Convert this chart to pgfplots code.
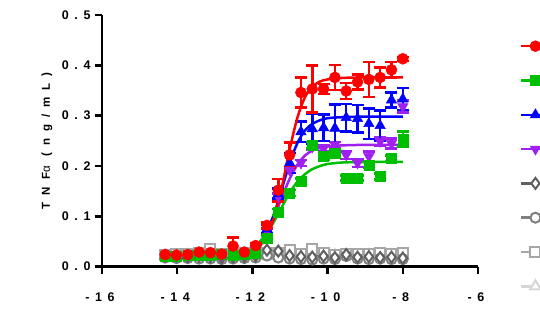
\documentclass[border=0pt]{standalone}
\usepackage{fontspec}
\setmainfont{Liberation Sans}
\newfontfamily\spaced{Liberation Sans}[LetterSpace=45]
\newfontfamily\labelspaced{Liberation Sans}[LetterSpace=60]
\usepackage{pgfplots}
\usepackage{pgfplotstable}
\pgfplotsset{compat=1.18}

\definecolor{cRed}{RGB}{255,0,0}
\definecolor{cGreen}{RGB}{0,190,0}
\definecolor{cBlue}{RGB}{0,0,255}
\definecolor{cPurple}{RGB}{160,32,240}
\definecolor{cDia}{RGB}{96,96,96}
\definecolor{cCirc}{RGB}{128,128,128}
\definecolor{cSq}{RGB}{166,166,166}
\definecolor{cTri}{RGB}{215,215,215}

% log dose (twofold dilutions), response and error for each stimulus
\pgfplotstableread{
x y e
-14.321 0.024 0.003
-14.020 0.023 0.003
-13.719 0.024 0.003
-13.418 0.029 0.004
-13.117 0.028 0.003
-12.816 0.025 0.003
-12.515 0.041 0.017
-12.214 0.029 0.004
-11.913 0.042 0.005
-11.612 0.082 0.006
-11.311 0.152 0.022
-11.010 0.222 0.025
-10.709 0.346 0.030
-10.408 0.353 0.047
-10.107 0.353 0.010
-9.806 0.376 0.025
-9.505 0.349 0.016
-9.204 0.367 0.015
-8.903 0.372 0.035
-8.602 0.376 0.020
-8.301 0.391 0.016
-8.000 0.413 0.004
}\redpts

\pgfplotstableread{
x y e
-14.321 0.021 0.003
-14.020 0.020 0.003
-13.719 0.022 0.003
-13.418 0.023 0.003
-13.117 0.022 0.003
-12.816 0.024 0.003
-12.515 0.022 0.003
-12.214 0.025 0.003
-11.913 0.027 0.004
-11.612 0.056 0.005
-11.311 0.109 0.006
-11.010 0.146 0.006
-10.709 0.169 0.006
-10.408 0.242 0.006
-10.107 0.219 0.006
-9.806 0.225 0.006
-9.505 0.176 0.005
-9.204 0.176 0.005
-8.903 0.202 0.006
-8.602 0.179 0.006
-8.301 0.215 0.006
-8.000 0.254 0.015
}\greenpts

\pgfplotstableread{
x y e
-14.321 0.021 0.003
-14.020 0.021 0.003
-13.719 0.022 0.003
-13.418 0.022 0.003
-13.117 0.023 0.003
-12.816 0.023 0.003
-12.515 0.024 0.003
-12.214 0.026 0.003
-11.913 0.036 0.004
-11.612 0.075 0.008
-11.311 0.145 0.010
-11.010 0.206 0.020
-10.709 0.268 0.020
-10.408 0.274 0.030
-10.107 0.276 0.026
-9.806 0.275 0.047
-9.505 0.296 0.027
-9.204 0.294 0.027
-8.903 0.284 0.030
-8.602 0.280 0.030
-8.301 0.331 0.015
-8.000 0.333 0.022
}\bluepts

\pgfplotstableread{
x y e
-14.321 0.020 0.003
-14.020 0.021 0.003
-13.719 0.021 0.003
-13.418 0.022 0.003
-13.117 0.022 0.003
-12.816 0.023 0.003
-12.515 0.023 0.003
-12.214 0.025 0.003
-11.913 0.033 0.004
-11.612 0.070 0.006
-11.311 0.139 0.006
-11.010 0.192 0.006
-10.709 0.206 0.006
-10.408 0.238 0.006
-10.107 0.235 0.006
-9.806 0.242 0.006
-9.505 0.222 0.008
-9.204 0.206 0.008
-8.903 0.219 0.010
-8.602 0.249 0.008
-8.301 0.245 0.010
-8.000 0.318 0.012
}\purplepts

% unstimulated / control series
\pgfplotstableread{
x dia circ sq tri
-14.321 0.022 0.018 0.024 0.022
-14.020 0.021 0.017 0.025 0.022
-13.719 0.020 0.017 0.026 0.023
-13.418 0.021 0.016 0.027 0.022
-13.117 0.020 0.016 0.036 0.022
-12.816 0.018 0.015 0.026 0.021
-12.515 0.019 0.016 0.025 0.022
-12.214 0.020 0.017 0.028 0.022
-11.913 0.022 0.018 0.030 0.023
-11.612 0.033 0.022 0.028 0.022
-11.311 0.031 0.018 0.028 0.023
-11.010 0.022 0.016 0.033 0.022
-10.709 0.020 0.015 0.025 0.022
-10.408 0.019 0.014 0.036 0.022
-10.107 0.021 0.016 0.027 0.023
-9.806 0.018 0.015 0.024 0.022
-9.505 0.024 0.021 0.025 0.022
-9.204 0.019 0.016 0.026 0.022
-8.903 0.020 0.015 0.025 0.023
-8.602 0.018 0.016 0.027 0.022
-8.301 0.019 0.015 0.026 0.022
-8.000 0.017 0.015 0.028 0.022
}\ctrlpts

% fitted dose-response curves
\pgfplotstableread{
x red green blue purple
-14.32 0.024 0.020 0.020 0.020
-13.00 0.024 0.021 0.020 0.020
-12.60 0.025 0.023 0.021 0.022
-12.40 0.026 0.026 0.023 0.024
-12.20 0.028 0.030 0.027 0.028
-12.00 0.032 0.038 0.034 0.036
-11.80 0.042 0.050 0.047 0.049
-11.60 0.063 0.069 0.072 0.071
-11.40 0.103 0.093 0.110 0.103
-11.20 0.164 0.121 0.159 0.141
-11.00 0.236 0.148 0.208 0.176
-10.80 0.297 0.169 0.246 0.203
-10.60 0.337 0.184 0.271 0.221
-10.40 0.358 0.194 0.284 0.231
-10.20 0.368 0.200 0.291 0.236
-10.00 0.372 0.204 0.295 0.239
-9.60 0.375 0.207 0.297 0.241
-9.00 0.376 0.208 0.298 0.242
-8.00 0.376 0.208 0.298 0.242
}\fits

\pgfplotsset{
  ebars/.style={error bars/.cd, y dir=both, y explicit,
    error bar style={line width=2.5pt},
    error mark options={rotate=90, line width=2.5pt, mark size=6pt}},
}

\begin{document}
\begin{tikzpicture}
\begin{axis}[
  width=376pt, height=251.7pt, scale only axis,
  xmin=-16, xmax=-6, ymin=0, ymax=0.5,
  axis x line=bottom, axis y line=left,
  axis line style={-, line width=2.5pt, black},
  xtick={-16,-14,-12,-10,-8,-6},
  xticklabels={-16,-14,-12,-10,-8,-6},
  ytick={0,0.1,0.2,0.3,0.4,0.5},
  yticklabels={0.0,0.1,0.2,0.3,0.4,0.5},
  tick align=outside, major tick length=7pt,
  tick style={line width=2.5pt, black},
  ticklabel style={font=\spaced\bfseries\fontsize{12.5}{14}\selectfont},
  xticklabel style={yshift=-16pt, xshift=-2pt},
  yticklabel style={xshift=-1pt},
  ylabel={\labelspaced\bfseries TNF{\mdseries α} (ng/mL)},
  ylabel style={font=\fontsize{11.5}{13}\selectfont, at={(axis description cs:-0.1466,0.5)}, anchor=center},
  clip=false,
  legend image code/.code={\draw[mark repeat=2,mark phase=2,#1] plot coordinates {(0pt,0pt)(14pt,0pt)(28pt,0pt)};},
  legend style={at={(axis description cs:1.1117,0.945)}, anchor=north west, draw=none, fill=none,
    inner sep=0pt, row sep=0pt, nodes={inner sep=0pt, minimum height=34.3pt}},
  legend cell align=left,
]
% control series and their flat fits
\addplot[forget plot, cTri, line width=2.5pt] coordinates {(-14.32,0.022) (-8,0.022)};
\addplot[forget plot, only marks, cTri, mark=triangle*, mark size=6pt, mark options={fill=white, line width=2pt}] table[x=x, y=tri] {\ctrlpts};
\addplot[forget plot, cSq, line width=2.5pt] coordinates {(-14.32,0.027) (-8,0.027)};
\addplot[forget plot, only marks, cSq, mark=square*, mark size=5pt, mark options={fill=white, line width=2pt}] table[x=x, y=sq] {\ctrlpts};
\addplot[forget plot, cCirc, line width=2.5pt] coordinates {(-14.32,0.016) (-8,0.016)};
\addplot[forget plot, only marks, cCirc, mark=*, mark size=5pt, mark options={fill=white, line width=2pt}] table[x=x, y=circ] {\ctrlpts};
\addplot[forget plot, cDia, line width=2.5pt] coordinates {(-14.32,0.020) (-8,0.020)};
\addplot[forget plot, only marks, cDia, mark=diamond*, mark size=5.5pt, mark options={fill=white, line width=2pt}] table[x=x, y=dia] {\ctrlpts};

% stimulated series: fitted curve, then points with error bars
\addplot[forget plot, cPurple, line width=2.5pt, smooth] table[x=x, y=purple] {\fits};
\addplot[forget plot, only marks, cPurple, mark=triangle*, mark size=6pt, mark options={rotate=180, line width=0.5pt}, ebars]
  table[x=x, y=y, y error=e] {\purplepts};
\addplot[forget plot, cBlue, line width=2.5pt, smooth] table[x=x, y=blue] {\fits};
\addplot[forget plot, only marks, cBlue, mark=triangle*, mark size=6pt, mark options={line width=0.5pt}, ebars]
  table[x=x, y=y, y error=e] {\bluepts};
\addplot[forget plot, cGreen, line width=2.5pt, smooth] table[x=x, y=green] {\fits};
\addplot[forget plot, only marks, cGreen, mark=square*, mark size=5pt, mark options={line width=0.5pt}, ebars]
  table[x=x, y=y, y error=e] {\greenpts};
\addplot[forget plot, cRed, line width=2.5pt, smooth] table[x=x, y=red] {\fits};
\addplot[forget plot, only marks, cRed, mark=*, mark size=5.5pt, mark options={line width=0.5pt}, ebars]
  table[x=x, y=y, y error=e] {\redpts};

% legend keys
\addlegendimage{cRed, line width=2.5pt, mark=*, mark size=5.5pt, mark options={line width=0.5pt}}
\addlegendentry{}
\addlegendimage{cGreen, line width=2.5pt, mark=square*, mark size=5pt, mark options={line width=0.5pt}}
\addlegendentry{}
\addlegendimage{cBlue, line width=2.5pt, mark=triangle*, mark size=6pt, mark options={line width=0.5pt}}
\addlegendentry{}
\addlegendimage{cPurple, line width=2.5pt, mark=triangle*, mark size=6pt, mark options={rotate=180, line width=0.5pt}}
\addlegendentry{}
\addlegendimage{cDia, line width=2.5pt, mark=diamond*, mark size=5.5pt, mark options={fill=white, line width=2pt}}
\addlegendentry{}
\addlegendimage{cCirc, line width=2.5pt, mark=*, mark size=5pt, mark options={fill=white, line width=2pt}}
\addlegendentry{}
\addlegendimage{cSq, line width=2.5pt, mark=square*, mark size=5pt, mark options={fill=white, line width=2pt}}
\addlegendentry{}
\addlegendimage{cTri, line width=2.5pt, mark=triangle*, mark size=6pt, mark options={fill=white, line width=2pt}}
\addlegendentry{}

\coordinate (lowleft) at (rel axis cs:0,0);
\coordinate (upright) at (rel axis cs:1,1);
\end{axis}
\pgfresetboundingbox
\path ([shift={(-102pt,-57.3pt)}]lowleft) rectangle ([shift={(62pt,15pt)}]upright);
\end{tikzpicture}
\end{document}
